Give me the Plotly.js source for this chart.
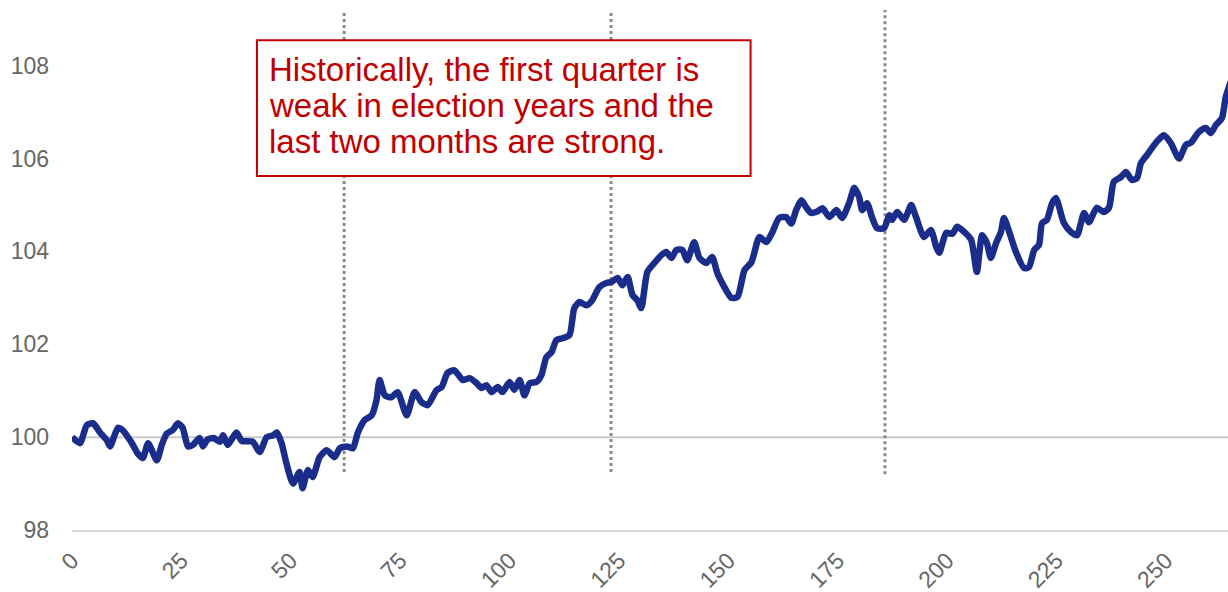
<!DOCTYPE html>
<html>
<head>
<meta charset="utf-8">
<script src="https://cdn.plot.ly/plotly-3.0.1.min.js"></script>
<style>html,body{margin:0;padding:0;background:#fff;}#chart{width:1228px;height:592px;}</style>
</head>
<body>
<div id="chart"></div>
<script>
// Trading day index
const days = [0,1.8,3.4,4.8,6.4,8,8.7,10.5,11.6,12.5,13.7,15,16.2,17.4,19.4,20.5,21.7,23,24.2,25.3,26.5,27.6,29.2,29.9,31,32.4,33.8,34.5,35.6,36.8,37.6,38.8,41.3,42.9,44.5,46,46.8,47.9,49,50.5,52,52.7,53.9,55,56.6,58.2,60,61.2,62.8,64.2,65.3,66.9,68.5,69.6,70.3,71.5,73,74.4,76.5,78.3,79.9,81.3,83.3,84.5,85.8,87.4,89.3,90.9,92.5,93.6,94.7,95.9,97.3,98.4,100,101.1,102.3,103.4,104.6,106.2,107.3,108.4,109.6,110.7,112.1,113.7,114.8,116,117.6,118.9,120.5,122.1,123.3,124.7,125.8,127,128.1,129.2,130.1,131.5,133.1,134.7,135.8,137,138.1,139.5,140.6,142.2,143.4,145,146.3,147.5,149.1,150.7,152.1,153.7,155.3,157.1,158.7,160,161.6,163.2,164.4,165.5,166.7,167.8,168.9,170.3,171.5,173.1,174.7,176,177.6,178.8,179.9,180.6,181.7,182.9,184,185.6,186.8,187.4,188.6,190.2,191.8,192.9,194.7,196.3,197.5,198.2,199.8,201.2,202.3,203.9,205.5,206.8,208,209.1,210,211.2,212.3,213,214.2,215.8,217.6,218.7,219.9,221,221.7,222.8,224,224.9,225.6,226.7,228.3,229.7,231.3,232.4,234.2,235.8,237,238.1,239.7,240.9,242.2,243.4,244.3,245.7,247.7,249.5,251.1,253,254.6,255.7,257.5,259.1,260.3,261.4,262.8,263.7,265];
// Index level (start = 100)
const index = [100.0,99.87,100.26,100.3,100.1,99.93,99.8,100.2,100.15,100.04,99.87,99.65,99.55,99.87,99.5,99.83,100.08,100.15,100.3,100.2,99.8,99.83,99.98,99.8,99.95,99.98,99.9,100.04,99.83,100.0,100.1,99.92,99.9,99.68,100.0,100.04,100.1,99.87,99.44,99.0,99.25,98.9,99.29,99.14,99.57,99.72,99.57,99.76,99.8,99.76,100.09,100.37,100.47,100.8,101.23,100.9,100.86,100.97,100.47,100.97,100.75,100.69,101.01,101.08,101.38,101.44,101.23,101.27,101.16,101.06,101.12,100.97,101.08,100.97,101.19,101.02,101.23,100.9,101.16,101.19,101.34,101.72,101.83,102.09,102.13,102.2,102.78,102.91,102.84,102.95,103.23,103.32,103.34,103.43,103.27,103.45,103.06,102.95,102.78,103.56,103.75,103.92,103.99,103.86,104.03,104.03,103.81,104.2,103.86,103.75,103.88,103.53,103.23,103.0,103.02,103.6,103.77,104.31,104.2,104.4,104.72,104.74,104.6,104.89,105.1,104.95,104.83,104.86,104.93,104.74,104.89,104.72,105.04,105.37,105.17,104.89,105.04,104.72,104.5,104.5,104.78,104.68,104.85,104.68,105.0,104.74,104.31,104.46,104.1,103.97,104.4,104.38,104.53,104.42,104.25,103.56,104.35,104.18,103.86,104.18,104.42,104.72,104.42,103.97,103.64,103.66,104.03,104.14,104.61,104.68,105.04,105.15,104.96,104.61,104.42,104.35,104.83,104.63,104.94,104.85,104.94,105.5,105.6,105.71,105.54,105.58,105.9,106.08,106.34,106.5,106.34,106.0,106.3,106.34,106.57,106.66,106.55,106.72,106.87,107.33,107.7];
// Dotted markers (quarter boundaries)
const markers = [62.2, 123.2, 185.8];
const markerBottoms = [99.25, 99.25, 99.2];
const yTicks = [98, 100, 102, 104, 106, 108];
const xTicks = [0, 25, 50, 75, 100, 125, 150, 175, 200, 225, 250];
const noteLines = ["Historically, the first quarter is", "weak in election years and the", "last two months are strong."];

const shapes = [
  {type:'line', xref:'paper', x0:0, x1:1, yref:'y', y0:100, y1:100,
   line:{color:'#c8c8c8', width:2}, layer:'below'}
];
markers.forEach((m,i)=>{
  shapes.push({type:'line', xref:'x', x0:m, x1:m, yref:'y', y0:markerBottoms[i], y1:109.2,
    line:{color:'#8a8a8a', width:3, dash:'dot'}, layer:'below'});
});
shapes.push({type:'rect', xref:'paper', yref:'paper', x0:0.160, x1:0.587, y0:0.681, y1:0.942,
  line:{color:'#c00000', width:2}, fillcolor:'rgba(255,255,255,1)', layer:'above'});

const data = [{
  x: days, y: index, type:'scatter', mode:'lines',
  line:{color:'#1b2d8a', width:6.5, shape:'spline', smoothing:0.6},
  hoverinfo:'skip'
}];

const lineY = [0.886, 0.817, 0.748];
const annotations = noteLines.map((t,i)=>({
  xref:'paper', yref:'paper', x:0.169, y:lineY[i], xanchor:'left', yanchor:'middle',
  text:t, showarrow:false, align:'left',
  font:{size:33, color:'#c00000', family:'"Liberation Sans", Arial, sans-serif'}
}));

const layout = {
  width:1228, height:592,
  margin:{l:72, r:0, t:10, b:62},
  paper_bgcolor:'#ffffff', plot_bgcolor:'#ffffff',
  showlegend:false,
  font:{family:'"Liberation Sans", Arial, sans-serif', color:'#666666'},
  xaxis:{range:[0,264.2], tickmode:'array', tickvals:xTicks, ticktext:xTicks.map(String),
    tickangle:-45, showgrid:false, zeroline:false, showline:true, linecolor:'#d9d9d9', linewidth:2,
    ticks:'', tickfont:{size:23, color:'#666666'}, ticklabelstandoff:6, fixedrange:true},
  yaxis:{range:[98,109.2], tickmode:'array', tickvals:yTicks, ticktext:yTicks.map(String),
    showgrid:false, zeroline:false, showline:false, ticks:'',
    tickfont:{size:23, color:'#666666'}, ticklabelstandoff:22, fixedrange:true},
  shapes: shapes,
  annotations: annotations
};

Plotly.newPlot('chart', data, layout, {displayModeBar:false, staticPlot:true});
</script>
</body>
</html>
